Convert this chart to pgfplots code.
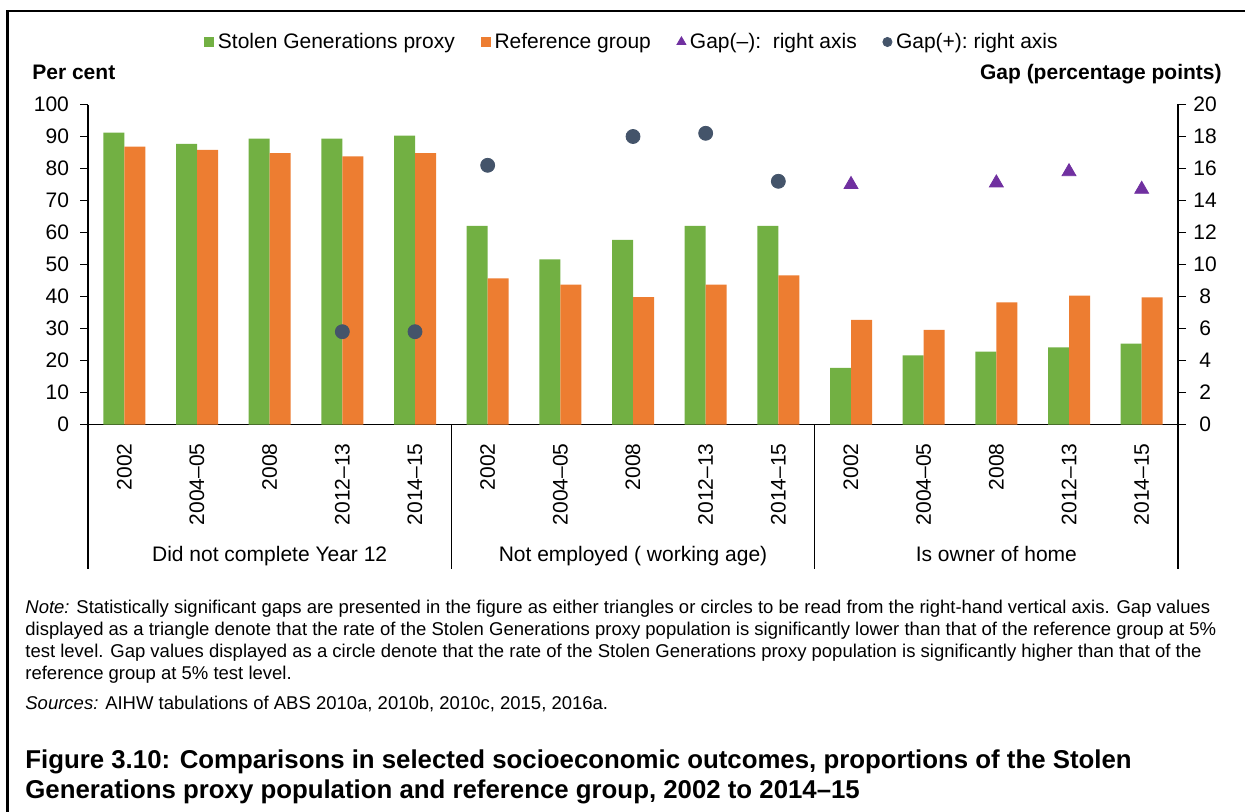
\documentclass[border=0pt]{standalone}
\usepackage{fontspec}
\setmainfont{Liberation Sans}
\usepackage{pgfplots}
\usepackage{pgfplotstable}
\pgfplotsset{compat=1.18}

\definecolor{sggreen}{HTML}{72B043}
\definecolor{reforange}{HTML}{ED7D31}
\definecolor{gappurple}{HTML}{7030A0}
\definecolor{gapslate}{HTML}{44546A}

\newcommand{\chartfont}{\fontsize{10.5}{12}\selectfont}

% bar values, per cent (left axis)
\pgfplotstableread{
x sg ref
0 91.2 86.8
1 87.7 85.8
2 89.3 84.8
3 89.3 83.8
4 90.3 84.8
5 62.1 45.7
6 51.6 43.7
7 57.7 39.8
8 62.1 43.7
9 62.1 46.6
10 17.7 32.7
11 21.6 29.6
12 22.8 38.2
13 24.1 40.3
14 25.3 39.7
}\bars

% significant gaps, percentage points (right axis)
\pgfplotstableread{
x gap
10 15.0
12 15.1
13 15.8
14 14.7
}\gapneg
\pgfplotstableread{
x gap
3 5.8
4 5.8
5 16.2
7 18.0
8 18.2
9 15.2
}\gappos

\pgfplotsset{
  sqlegend/.style={legend image code/.code={\fill[##1] (0pt,-2.4pt) rectangle (4.8pt,2.4pt);}},
  mklegend/.style={legend image code/.code={\draw[##1,mark size=#1] plot coordinates {(2.4pt,0pt)};}},
  twin/.style={
    at={(44pt,-212.25pt)}, anchor=south west,
    scale only axis, width=545pt, height=160pt,
    xmin=-0.5, xmax=14.5,
    tick align=outside, major tick length=4pt,
    axis line style={line width=0.7pt},
    tick style={line width=0.7pt, black},
    tick label style={font=\chartfont},
    /pgf/number format/assume math mode=true,
    clip=false,
  },
}

\begin{document}
\begin{tikzpicture}
\useasboundingbox (0,0) rectangle (622.5pt,-406pt);
\draw[line width=1.3pt] (3.6pt,-420pt) -- (3.6pt,-5.6pt) -- (640pt,-5.6pt);

\begin{axis}[
  twin,
  ymin=0, ymax=100,
  axis x line*=bottom, axis y line*=left,
  ybar=0pt, bar width=10.5pt,
  xtick={0,...,14},
  xticklabels={2002,2004–05,2008,2012–13,2014–15,2002,2004–05,2008,2012–13,2014–15,2002,2004–05,2008,2012–13,2014–15},
  xtick style={draw=none},
  xticklabel style={rotate=90, anchor=east},
  xticklabel shift=2pt,
  ytick={0,10,...,100},
  yticklabel style={xshift=-2pt},
]
\addplot[fill=sggreen, draw=none] table[x=x, y=sg] {\bars};
\addplot[fill=reforange, draw=none] table[x=x, y=ref] {\bars};
\draw[line width=0.7pt] (axis cs:-0.5,0) -- ([yshift=-72pt]axis cs:-0.5,0);
\draw[line width=0.7pt] (axis cs:4.5,0) -- ([yshift=-72pt]axis cs:4.5,0);
\draw[line width=0.7pt] (axis cs:9.5,0) -- ([yshift=-72pt]axis cs:9.5,0);
\draw[line width=0.7pt] (axis cs:14.5,0) -- ([yshift=-72pt]axis cs:14.5,0);
\node[font=\chartfont, anchor=base] at ([yshift=-68.5pt]axis cs:2,0) {Did not complete Year 12};
\node[font=\chartfont, anchor=base] at ([yshift=-68.5pt]axis cs:7,0) {Not employed ( working age)};
\node[font=\chartfont, anchor=base] at ([yshift=-68.5pt]axis cs:12,0) {Is owner of home};
\end{axis}

\begin{axis}[
  twin,
  ymin=0, ymax=20,
  axis x line=none, axis y line*=right,
  ytick={0,2,...,20},
  yticklabel style={text width=12pt, align=center},
  legend columns=4,
  legend style={at={(0.5,1)}, anchor=center, yshift=31.25pt, draw=none, fill=none,
    font=\chartfont, /tikz/every even column/.append style={column sep=11pt}},
]
\addlegendimage{fill=sggreen, draw=none, sqlegend}
\addlegendimage{fill=reforange, draw=none, sqlegend}
\addplot[only marks, mark=triangle*, mark size=4pt, color=gappurple, mklegend=2.6pt] table[x=x, y=gap] {\gapneg};
\addplot[only marks, mark=*, mark size=3.5pt, color=gapslate, mklegend=2.3pt] table[x=x, y=gap] {\gappos};
\legend{Stolen Generations proxy, Reference group, Gap(–):\ \ right axis, Gap(+):\ right axis}
\end{axis}

\node[anchor=base west, inner sep=0, font=\chartfont\bfseries] at (16pt,-40pt) {Per cent};
\node[anchor=base east, inner sep=0, font=\chartfont\bfseries] at (611pt,-40pt) {Gap (percentage points)};

\begin{scope}[every node/.style={anchor=base west, inner sep=0, font=\fontsize{9.25}{11}\selectfont}]
\node at (12.5pt,-306.5pt) {\textit{Note:} Statistically significant gaps are presented in the figure as either triangles or circles to be read from the right-hand vertical axis. Gap values};
\node at (12.5pt,-317.5pt) {displayed as a triangle denote that the rate of the Stolen Generations proxy population is significantly lower than that of the reference group at 5\%};
\node at (12.5pt,-328.5pt) {test level. Gap values displayed as a circle denote that the rate of the Stolen Generations proxy population is significantly higher than that of the};
\node at (12.5pt,-339.5pt) {reference group at 5\% test level.};
\node at (12.5pt,-354.5pt) {\textit{Sources:} AIHW tabulations of ABS 2010a, 2010b, 2010c, 2015, 2016a.};
\end{scope}
\begin{scope}[every node/.style={anchor=base west, inner sep=0, font=\fontsize{12.9}{15}\selectfont\bfseries}]
\node at (12.5pt,-384pt) {Figure 3.10: Comparisons in selected socioeconomic outcomes, proportions of the Stolen};
\node at (12.5pt,-399pt) {Generations proxy population and reference group, 2002 to 2014–15};
\end{scope}
\end{tikzpicture}
\end{document}
